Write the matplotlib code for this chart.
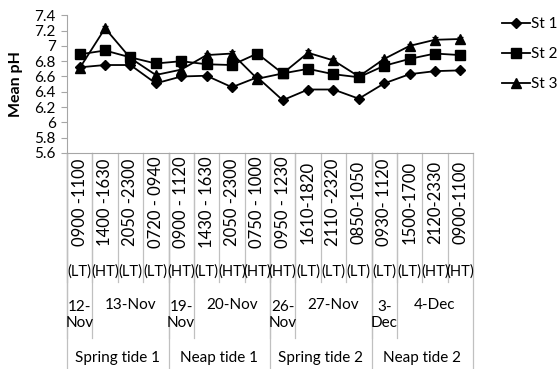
import matplotlib.pyplot as plt
from matplotlib.transforms import blended_transform_factory

# Mean pH per sampling window at three stations
times = ['0900 -1100', '1400 -1630', '2050 -2300', '0720 - 0940',
         '0900 - 1120', '1430 - 1630', '2050 -2300', '0750 - 1000',
         '0950 - 1230', '1610-1820', '2110 -2320', '0850-1050',
         '0930- 1120', '1500-1700', '2120-2330', '0900-1100']
tides = ['(LT)', '(HT)', '(LT)', '(LT)', '(HT)', '(LT)', '(HT)', '(HT)',
         '(HT)', '(LT)', '(LT)', '(LT)', '(LT)', '(LT)', '(HT)', '(HT)']
dates = [('12-\nNov', 1), ('13-Nov', 3), ('19-\nNov', 1), ('20-Nov', 3),
         ('26-\nNov', 1), ('27-Nov', 3), ('3-\nDec', 1), ('4-Dec', 3)]
phases = [('Spring tide 1', 4), ('Neap tide 1', 4),
          ('Spring tide 2', 4), ('Neap tide 2', 4)]

st1 = [6.72, 6.75, 6.75, 6.51, 6.60, 6.61, 6.46, 6.59,
       6.29, 6.43, 6.43, 6.31, 6.51, 6.63, 6.67, 6.68]
st2 = [6.89, 6.94, 6.85, 6.77, 6.80, 6.76, 6.75, 6.90,
       6.64, 6.70, 6.63, 6.59, 6.74, 6.83, 6.90, 6.88]
st3 = [6.71, 7.23, 6.84, 6.62, 6.69, 6.88, 6.90, 6.57,
       6.64, 6.91, 6.81, 6.60, 6.83, 7.00, 7.08, 7.09]
err1 = [0.02] * 16
err2 = [0.02] * 16
err3 = [0.03] * 16

plt.rcParams['font.family'] = ['Lato', 'DejaVu Sans']
W, H = 557, 369
fs = 11
gray = '#a6a6a6'


def fy(ypix):
    return 1 - ypix / H


def main():
    fig = plt.figure(figsize=(W / 100, H / 100), dpi=100)
    ax = fig.add_axes([67 / W, fy(153), (473 - 67) / W, (153 - 15.3) / H])

    x = list(range(len(times)))
    series = [(st1, err1, 'D', 5, 'St 1'),
              (st2, err2, 's', 6.5, 'St 2'),
              (st3, err3, '^', 6.5, 'St 3')]
    handles = []
    for vals, err, mk, ms, lab in series:
        cont = ax.errorbar(x, vals, yerr=err, color='black', lw=1.3,
                           marker=mk, ms=ms, capsize=2.5, elinewidth=0.9,
                           capthick=0.9, label=lab)
        handles.append(cont.lines[0])

    ax.set_xlim(-0.5, len(times) - 0.5)
    ax.set_ylim(5.6, 7.4)
    ax.set_yticks([5.6 + 0.2 * i for i in range(10)])
    ax.set_yticklabels(['%g' % round(5.6 + 0.2 * i, 1) for i in range(10)],
                       fontsize=fs)
    ax.set_xticks([])
    ax.tick_params(axis='y', length=4, color=gray, pad=4)
    for s in ['top', 'right']:
        ax.spines[s].set_visible(False)
    for s in ['left', 'bottom']:
        ax.spines[s].set_color(gray)
    ax.set_ylabel('Mean pH', fontsize=11.5, fontweight='bold', labelpad=8)

    # multi-level category axis below the plot
    tr = blended_transform_factory(ax.transData, fig.transFigure)
    lkw = dict(color='#c0c0c0', lw=0.9, transform=tr, clip_on=False)
    for i, (t, lt) in enumerate(zip(times, tides)):
        ax.plot([i - 0.5, i - 0.5], [fy(153), fy(282)], **lkw)
        ax.text(i, fy(202), t, rotation=90, ha='center', va='center',
                fontsize=12, transform=tr)
        ax.text(i, fy(272), lt, ha='center', va='center', fontsize=10.5,
                transform=tr)
    pos = 0
    for d, n in dates:
        ax.plot([pos - 0.5, pos - 0.5], [fy(153), fy(338)], **lkw)
        yy = 315 if '\n' in d else 305
        ax.text(pos - 0.5 + n / 2, fy(yy), d, ha='center', va='center',
                fontsize=fs, linespacing=1.2, transform=tr)
        pos += n
    pos = 0
    for p, n in phases:
        ax.plot([pos - 0.5, pos - 0.5], [fy(153), fy(369)], **lkw)
        ax.text(pos - 0.5 + n / 2, fy(358), p, ha='center', va='center',
                fontsize=11, transform=tr)
        pos += n
    ax.plot([pos - 0.5, pos - 0.5], [fy(153), fy(369)], **lkw)

    fig.legend(handles=handles, labels=[s[4] for s in series],
               loc='upper left', bbox_to_anchor=(502 / W, fy(17)),
               frameon=False, fontsize=fs, handlelength=1.8,
               handletextpad=0.1, labelspacing=1.05, borderpad=0,
               borderaxespad=0)

    fig.savefig('out.png', dpi=100)
    plt.close('all')


if __name__ == '__main__':
    main()
